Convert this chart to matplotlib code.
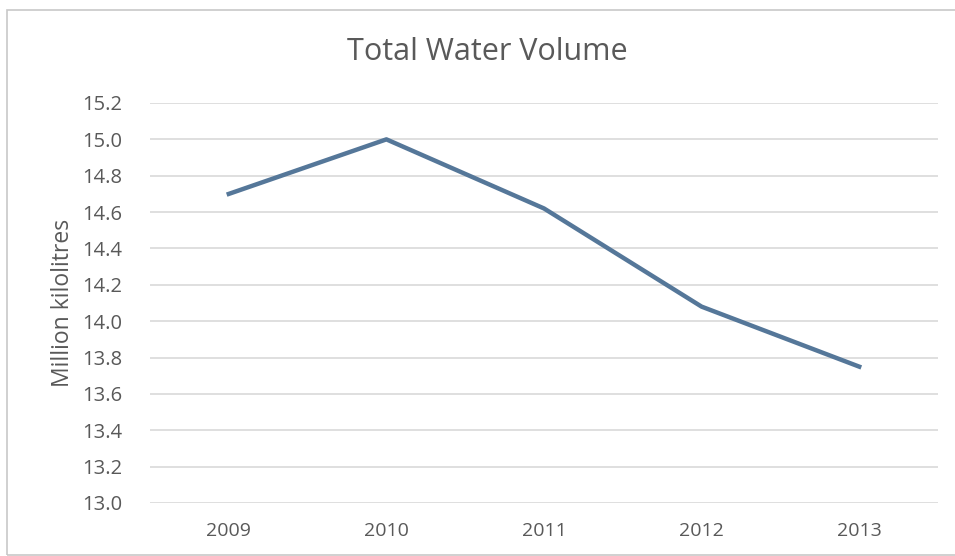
import matplotlib.pyplot as plt
from matplotlib.patches import Rectangle

# yearly totals, million kilolitres
years = ["2009", "2010", "2011", "2012", "2013"]
volume = [14.70, 15.00, 14.62, 14.08, 13.75]
y_ticks = [13.0, 13.2, 13.4, 13.6, 13.8, 14.0, 14.2, 14.4, 14.6, 14.8, 15.0, 15.2]

plt.rcParams['font.family'] = ['Open Sans', 'DejaVu Sans']
grey_text = "#595959"

fig = plt.figure(figsize=(9.55, 5.56), dpi=100)
ax = fig.add_axes([150 / 955, 1 - 503 / 556, 788 / 955, 400 / 556])

x = list(range(len(years)))
ax.plot(x, volume, color="#557799", linewidth=3.2, solid_joinstyle="round", zorder=3)

ax.set_xlim(-0.5, len(years) - 0.5)
ax.set_ylim(13.0, 15.2)
ax.set_yticks(y_ticks)
ax.set_yticklabels([f"{t:.1f}" for t in y_ticks])
ax.set_xticks(x)
ax.set_xticklabels(years)

ax.grid(axis="y", color="#d9d9d9", linewidth=1.2, zorder=0)
ax.set_axisbelow(True)
for s in ax.spines.values():
    s.set_visible(False)
ax.tick_params(axis="both", length=0, colors=grey_text)
ax.tick_params(axis="y", pad=20, labelsize=14.5)
ax.tick_params(axis="x", pad=14, labelsize=14)

ax.set_ylabel("Million kilolitres", fontsize=16.5, color=grey_text, labelpad=5)

fig.text(487 / 955, 1 - 60 / 556, "Total Water Volume", fontsize=22,
         color=grey_text, ha="center", va="baseline")

# light frame around the whole chart
fig.patches.append(Rectangle((7 / 955, 1 / 556), 950 / 955, 545 / 556,
                             transform=fig.transFigure, fill=False,
                             edgecolor="#c8c8c8", linewidth=1.2))

fig.savefig("out.png", dpi=100, facecolor="white")
